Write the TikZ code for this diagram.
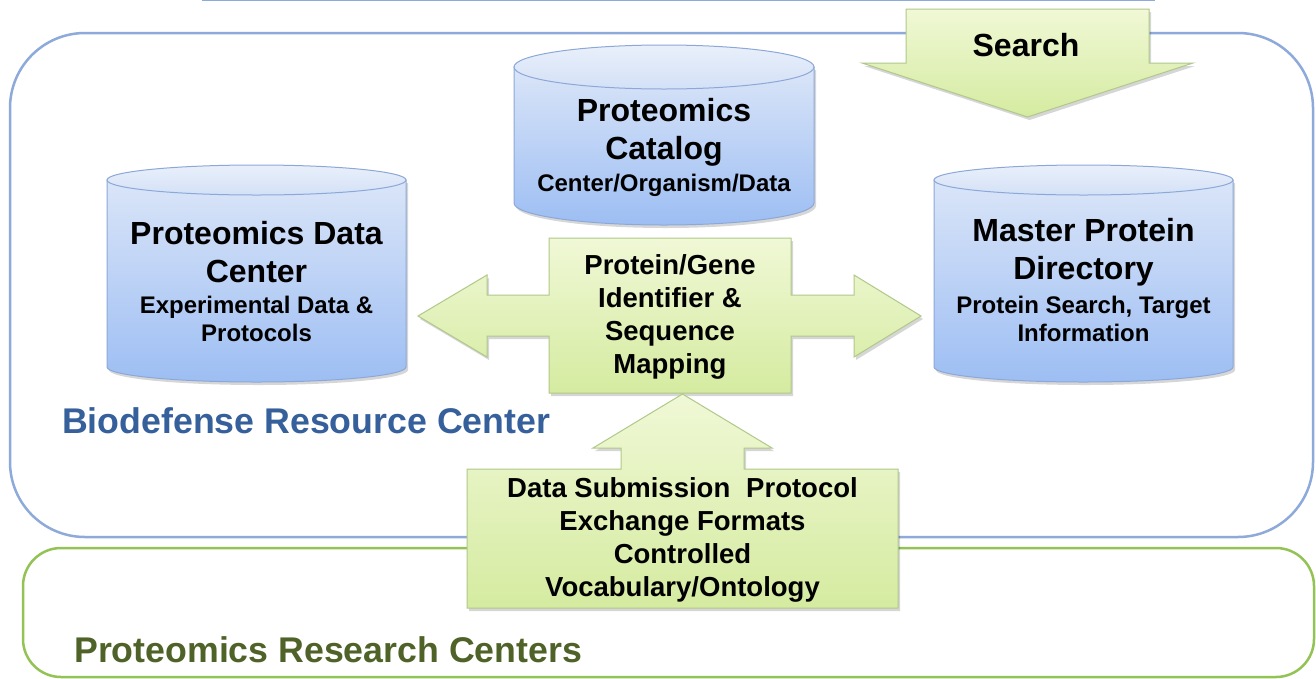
\documentclass[tikz,border=0pt]{standalone}
\usepackage{fontspec}
\setmainfont{Liberation Sans}
\definecolor{bluebord}{HTML}{8EAADB}
\definecolor{greenbord}{HTML}{93C255}
\definecolor{cylline}{HTML}{8CA8D8}
\definecolor{cylT}{HTML}{DAE5F8}
\definecolor{cylB}{HTML}{9DBEF3}
\definecolor{cylTopT}{HTML}{E9F0FB}
\definecolor{cylTopB}{HTML}{D3E0F6}
\definecolor{grline}{HTML}{B0C88A}
\definecolor{grT}{HTML}{F0F8D6}
\definecolor{grB}{HTML}{D5EBA0}
\definecolor{bluetext}{HTML}{35609B}
\definecolor{greentext}{HTML}{4F6228}
\begin{document}
\begin{tikzpicture}[x=1pt,y=1pt,
  cylbody/.style={draw=cylline, line width=1pt, top color=cylT, bottom color=cylB},
  cyltop/.style={draw=cylline, line width=1pt, top color=cylTopT, bottom color=cylTopB},
  greenshape/.style={draw=grline, line width=1pt, top color=grT, bottom color=grB},
  shadowfill/.style={fill=black, opacity=0.16},
  ttl/.style={font=\bfseries\fontsize{32}{38}\selectfont, align=center, inner sep=0pt},
  subttl/.style={font=\bfseries\fontsize{24}{28}\selectfont, align=center, inner sep=0pt},
  lbl/.style={font=\bfseries\fontsize{27.5}{33}\selectfont, align=center, inner sep=0pt},
  biglbl/.style={font=\bfseries\fontsize{35.7}{40}\selectfont, anchor=base west, inner sep=0pt}]
\useasboundingbox (0,0) rectangle (1316,-678);
\fill[white] (0,0) rectangle (1316,-678);
% frames
\draw[bluebord, line width=2.5pt, rounded corners=75pt] (10,-33) rectangle (1313,-537);
\draw[greenbord, line width=2.5pt, rounded corners=38pt] (23,-548) rectangle (1314,-677);
\draw[bluebord, line width=2.5pt] (202,0) -- (1155,0);
% cylinder: Proteomics Data Center
\fill[shadowfill] (109,-183) -- (109,-370) arc[start angle=180,end angle=360,x radius=149.5pt,y radius=15pt] -- (408,-183) -- cycle;
\path[cylbody] (107,-180) -- (107,-367) arc[start angle=180,end angle=360,x radius=149.5pt,y radius=15pt] -- (406,-180) -- cycle;
\path[cyltop] (256.5,-180) ellipse[x radius=149.5pt,y radius=15pt];
% cylinder: Proteomics Catalog
\fill[shadowfill] (516,-70) -- (516,-206) arc[start angle=180,end angle=360,x radius=150pt,y radius=22pt] -- (816,-70) -- cycle;
\path[cylbody] (514,-67) -- (514,-203) arc[start angle=180,end angle=360,x radius=150pt,y radius=22pt] -- (814,-67) -- cycle;
\path[cyltop] (664,-67) ellipse[x radius=150pt,y radius=22pt];
% cylinder: Master Protein Directory
\fill[shadowfill] (936,-183) -- (936,-370) arc[start angle=180,end angle=360,x radius=149.5pt,y radius=15pt] -- (1235,-183) -- cycle;
\path[cylbody] (934,-180) -- (934,-367) arc[start angle=180,end angle=360,x radius=149.5pt,y radius=15pt] -- (1233,-180) -- cycle;
\path[cyltop] (1083.5,-180) ellipse[x radius=149.5pt,y radius=15pt];
% Search arrow
\fill[shadowfill, shift={(2,-3)}] (906,-9) -- (1149,-9) -- (1149,-63) -- (1193,-63) -- (1027.5,-117) -- (862,-63) -- (906,-63) -- cycle;
\path[greenshape] (906,-9) -- (1149,-9) -- (1149,-63) -- (1193,-63) -- (1027.5,-117) -- (862,-63) -- (906,-63) -- cycle;
% left-right arrow callout
\fill[shadowfill, shift={(2,-3)}] (418,-316) -- (487,-275) -- (487,-295) -- (549,-295) -- (549,-238) -- (791,-238) -- (791,-295) -- (854,-295) -- (854,-275) -- (921,-316) -- (854,-357) -- (854,-336) -- (791,-336) -- (791,-393) -- (549,-393) -- (549,-336) -- (487,-336) -- (487,-357) -- cycle;
\path[greenshape] (418,-316) -- (487,-275) -- (487,-295) -- (549,-295) -- (549,-238) -- (791,-238) -- (791,-295) -- (854,-295) -- (854,-275) -- (921,-316) -- (854,-357) -- (854,-336) -- (791,-336) -- (791,-393) -- (549,-393) -- (549,-336) -- (487,-336) -- (487,-357) -- cycle;
% up arrow callout
\fill[shadowfill, shift={(2,-3)}] (467,-469) -- (621,-469) -- (621,-448) -- (593,-448) -- (682.5,-394) -- (772,-448) -- (744,-448) -- (744,-469) -- (898,-469) -- (898,-608) -- (467,-608) -- cycle;
\path[greenshape] (467,-469) -- (621,-469) -- (621,-448) -- (593,-448) -- (682.5,-394) -- (772,-448) -- (744,-448) -- (744,-469) -- (898,-469) -- (898,-608) -- (467,-608) -- cycle;
% texts
\node[font=\bfseries\fontsize{32}{36}\selectfont, inner sep=0pt] (search) at (1026,-45) {Search};
\node[ttl] (pdct) at (256.5,-252) {Proteomics Data\\Center};
\node[subttl] (pdcs) at (256.5,-319) {Experimental Data \&\\Protocols};
\node[ttl] (pct) at (664,-132) {Proteomics\\Catalog};
\node[subttl] (pcs) at (664,-185) {Center/Organism/Data};
\node[ttl] (mpdt) at (1083.5,-252) {Master Protein\\Directory};
\node[subttl] (mpds) at (1083.5,-319) {Protein Search, Target\\Information};
\node[lbl] (map) at (670,-317) {Protein/Gene\\Identifier \&\\Sequence\\Mapping};
\node[lbl] (dsp) at (682.5,-540) {Data Submission\hspace{0.3em} Protocol\\Exchange Formats\\Controlled\\Vocabulary/Ontology};
\node[biglbl, text=bluetext] (brc) at (62,-433) {Biodefense Resource Center};
\node[biglbl, text=greentext] (prc) at (74,-662) {Proteomics Research Centers};
\end{tikzpicture}
\end{document}
